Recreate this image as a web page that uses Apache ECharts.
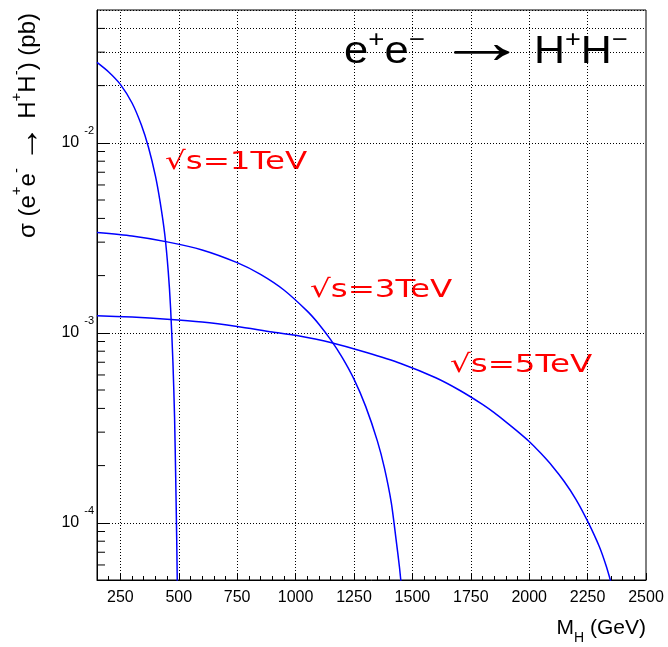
<!DOCTYPE html>
<html>
<head>
<meta charset="utf-8">
<script src="https://cdn.jsdelivr.net/npm/echarts@6/dist/echarts.min.js"></script>
<style>html,body{margin:0;padding:0;background:#fff}#c{width:668px;height:647px}</style>
</head>
<body>
<div id="c"></div>
<script>
// ---- data ----
const mass1TeV  = [150, 200, 250, 300, 340, 370, 400, 420, 440, 455, 465, 475, 482, 487, 491, 494];
const sigma1TeV = [0.0265, 0.0236, 0.0203, 0.0162, 0.0124, 0.0095, 0.0067, 0.0049, 0.0033, 0.0021, 0.00135, 0.00070, 0.00036, 0.00017, 0.000085, 0.000045];

const mass3TeV  = [150, 300, 450, 600, 750, 850, 950, 1050, 1100, 1150, 1200, 1250, 1300, 1350, 1380, 1410, 1430, 1445, 1458];
const sigma3TeV = [0.00337, 0.00323, 0.00301, 0.00273, 0.00234, 0.00203, 0.00168, 0.00130, 0.00111, 0.00092, 0.00074, 0.00057, 0.00041, 0.00027, 0.000195, 0.000127, 0.000082, 0.000058, 0.000040];

const mass5TeV  = [150, 300, 450, 600, 750, 900, 1000, 1150, 1300, 1450, 1600, 1700, 1800, 1850, 1900, 1950, 2000, 2050, 2100, 2150, 2200, 2250, 2300, 2330, 2360];
const sigma5TeV = [0.00123, 0.00121, 0.00118, 0.00114, 0.00108, 0.00101, 0.00097, 0.00089, 0.00079, 0.00069, 0.00058, 0.00050, 0.00042, 0.00038, 0.00034, 0.000303, 0.000268, 0.000232, 0.000198, 0.000165, 0.000133, 0.000102, 0.000075, 0.000059, 0.000044];

const xRange = [150, 2500];
const yRange = [5e-5, 5e-2];
const xMajorTicks = [250, 500, 750, 1000, 1250, 1500, 1750, 2000, 2250, 2500];
const xMinorStep = 50;
const yMinorTicks = [6e-5, 7e-5, 8e-5, 9e-5,
  2e-4, 3e-4, 4e-4, 5e-4, 6e-4, 7e-4, 8e-4, 9e-4,
  2e-3, 3e-3, 4e-3, 5e-3, 6e-3, 7e-3, 8e-3, 9e-3,
  2e-2, 3e-2, 4e-2];

const seriesNames = ['1TeV', '3TeV', '5TeV'];

// ---- chart ----
const chart = echarts.init(document.getElementById('c'), null, {renderer: 'canvas'});
const FONT = 'Liberation Sans, Arial, sans-serif';
const dotted = {color: '#000', width: 1, type: [1, 2]};

function pairs(xs, ys) { return xs.map((x, i) => [x, ys[i]]); }

const curveStyle = {color: '#0000ff', width: 1.5};
function curve(name, xs, ys) {
  return {
    name: name, type: 'line', data: pairs(xs, ys), showSymbol: false, symbol: 'none',
    smooth: 0.25, clip: true, z: 5, lineStyle: curveStyle, itemStyle: {color: '#0000ff'}
  };
}

function redLabel(text, x, y) {
  return {type: 'text', x: x, y: y, scaleX: 1.3, silent: true,
    style: {text: text, fill: '#ff0000', fontFamily: 'DejaVu Sans', fontSize: 25, align: 'left', verticalAlign: 'middle'}};
}

const supRich = {
  n: {fontFamily: FONT, fontSize: 38, lineHeight: 50, verticalAlign: 'middle', fill: '#000'},
  s: {fontFamily: FONT, fontSize: 24, lineHeight: 21, verticalAlign: 'top', fill: '#000'}
};

const option = {
  animation: false,
  backgroundColor: '#fff',
  grid: {left: 97, top: 10, width: 549, height: 570, show: true, borderColor: '#000', borderWidth: 1, backgroundColor: 'transparent'},
  xAxis: [{
    type: 'value', min: xRange[0], max: xRange[1], interval: xMinorStep,
    axisLine: {show: true, onZero: false, lineStyle: {color: '#000', width: 1}},
    axisTick: {show: true, inside: true, length: 4, lineStyle: {color: '#000'}},
    splitLine: {show: false},
    axisLabel: {
      margin: 10, color: '#000', fontFamily: FONT, fontSize: 16,
      formatter: v => (xMajorTicks.indexOf(v) >= 0 ? String(v) : '')
    }
  }, {
    type: 'value', min: xRange[0], max: xRange[1], position: 'bottom',
    axisLine: {show: false},
    axisTick: {show: true, inside: true, length: 7, customValues: xMajorTicks, lineStyle: {color: '#000'}},
    axisLabel: {show: false},
    splitLine: {show: false}
  }],
  yAxis: {
    type: 'log', logBase: 10, min: yRange[0], max: yRange[1],
    axisLine: {show: true, onZero: false, lineStyle: {color: '#000', width: 1}},
    axisTick: {show: true, inside: true, length: 12, lineStyle: {color: '#000'}},
    splitLine: {show: true, lineStyle: dotted},
    axisLabel: {
      showMinLabel: false, showMaxLabel: false, margin: 3, color: '#000',
      formatter: v => '{b|10}{s|' + Math.round(Math.log10(v)) + '}',
      rich: {
        b: {fontFamily: FONT, fontSize: 16, lineHeight: 34, verticalAlign: 'middle', color: '#000'},
        s: {fontFamily: FONT, fontSize: 11, lineHeight: 11, verticalAlign: 'top', padding: [0, 0, 0, 5], color: '#000'}
      }
    }
  },
  series: [
    {
      name: 'grid', type: 'line', data: [], silent: true, z: 1,
      markLine: {
        silent: true, symbol: ['none', 'none'], label: {show: false}, animation: false,
        lineStyle: dotted,
        data: xMajorTicks.filter(v => v < xRange[1]).map(v => ({xAxis: v}))
          .concat(yMinorTicks.map(v => ({yAxis: v})))
      }
    },
    {
      name: 'yMinorTicks', type: 'custom', coordinateSystem: 'cartesian2d', silent: true, z: 6, clip: false,
      data: yMinorTicks.map(v => [xRange[0], v]),
      renderItem: (params, api) => {
        const p = api.coord([api.value(0), api.value(1)]);
        return {type: 'line', shape: {x1: p[0], y1: p[1], x2: p[0] + 8, y2: p[1]}, style: {stroke: '#000', lineWidth: 1}};
      }
    },
    curve(seriesNames[0], mass1TeV, sigma1TeV),
    curve(seriesNames[1], mass3TeV, sigma3TeV),
    curve(seriesNames[2], mass5TeV, sigma5TeV)
  ],
  graphic: [
    { // y-axis title
      type: 'text', x: 28, y: 13, rotation: Math.PI / 2, silent: true,
      style: {
        text: '{n|σ (e}{s|+}{n|e}{s|-}{n| }{a|→}{n| H}{s|+}{n|H}{s|-}{n|) (pb)}',
        align: 'right', verticalAlign: 'middle',
        rich: {
          n: {fontFamily: FONT, fontSize: 24, lineHeight: 38, verticalAlign: 'middle', fill: '#000'},
          a: {fontFamily: FONT, fontSize: 36, lineHeight: 38, verticalAlign: 'middle', fill: '#000'},
          s: {fontFamily: FONT, fontSize: 15, lineHeight: 13, verticalAlign: 'top', fill: '#000'}
        }
      }
    },
    { // x-axis title
      type: 'text', x: 646, y: 628, silent: true,
      style: {
        text: '{n|M}{d|H}{n| (GeV)}',
        align: 'right', verticalAlign: 'middle',
        rich: {
          n: {fontFamily: FONT, fontSize: 21, lineHeight: 34, verticalAlign: 'middle', fill: '#000'},
          d: {fontFamily: FONT, fontSize: 14, lineHeight: 12, verticalAlign: 'bottom', fill: '#000'}
        }
      }
    },
    { // process title: left part
      type: 'text', x: 344, y: 53, scaleX: 1.15, silent: true,
      style: {text: '{n|e}{s|+}{n|e}{s|−}', align: 'left', verticalAlign: 'middle', rich: supRich}
    },
    { // arrow
      type: 'text', x: 482, y: 45, scaleX: 1.45, silent: true,
      style: {text: '→', fontFamily: FONT, fontSize: 64, fill: '#000', align: 'center', verticalAlign: 'middle'}
    },
    { // right part
      type: 'text', x: 534, y: 53, scaleX: 1.13, silent: true,
      style: {text: '{n|H}{s|+}{n|H}{s|−}', align: 'left', verticalAlign: 'middle', rich: supRich}
    },
    redLabel('√s=' + seriesNames[0], 165, 162),
    redLabel('√s=' + seriesNames[1], 310, 290),
    redLabel('√s=' + seriesNames[2], 450, 365)
  ]
};
chart.setOption(option);
</script>
</body>
</html>
